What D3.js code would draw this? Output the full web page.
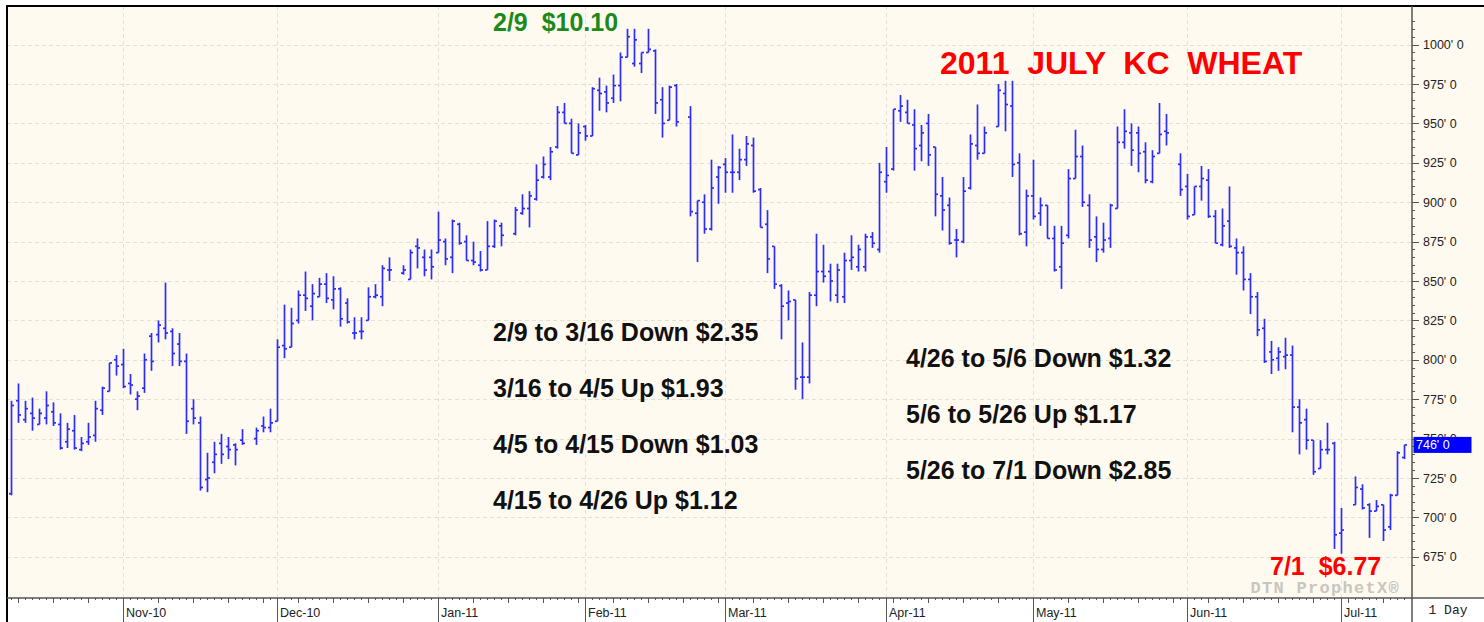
<!DOCTYPE html>
<html>
<head>
<meta charset="utf-8">
<title>2011 July KC Wheat</title>
<script src="https://d3js.org/d3.v7.min.js"></script>
<style>
  body { margin: 0; background: #fff; }
  svg { display: block; font-family: "Liberation Sans", Arial, sans-serif; }
</style>
</head>
<body>
<div id="chart"></div>
<script>
// trading calendar: every weekday gets a slot, holidays stay empty (null)
var firstDay = "2010-10-08";
var lastDay = "2011-07-14";

var priceTicks = [675, 700, 725, 750, 775, 800, 825, 850, 875, 900, 925, 950, 975, 1000];
var lastPrice = 746;

// daily bars, cents per bushel, one line per month
var opens = [
  715, 774, 762, 766, 759, 763, 767, 759, 748, 755, 743, 748, 752, 768, 780, 800,
  797, 785, 775, 782, 815, 816, 820, 818, 810, 799, 769, 760, 724, 735, 747, 745, 746, 749, null, 750, 758, 757,
  761, 809, 808, 825, 841, 834, 840, 848, 838, 845, 836, 817, 818, 825, 840, 840, 857, null, 855, 851, 872, 865, 865,
  868, 875, 865, 886, 875, 863, 860, 857, 872, 885, null, 880, 893, 896, 902, 916, 916, 935, 957, 950, 930,
  948, 942, 971, 970, 966, 974, 992, 988, 988, 995, 996, 965, 952, 974, null, 954, 893, 900, 883, 916,
  924, 919, 919, 927, 936, 908, 886, 872, 847, 836, 838, 789, 789, 841, 856, 856, 841, 840, 863, 859, 859, 878, 870,
  913, 921, 958, 957, 949, 936, 950, 935, 904, 898, 876, 875, 909, 936, 931, null, 948, 969, 961, 925, 881,
  904, 893, 898, 877, 859, 879, 915, 929, 898, 878, 870, 877, 896, 938, 944, 944, 932, 913, 931, 945, null, 924,
  910, 892, 910, 914, 891, 873, 888, 871, 868, 851, 840, 820, 805, 801, 802, 803, 770, 762, 749, 731, 743, 747,
  690, null, 708, 718, 708, 704, 708, 694, 714, 738
];
var highs = [
  774, 785, 774, 776, 769, 780, 773, 766, 760, 765, 751, 760, 774, 783, 798, 803,
  807, 791, 780, 804, 817, 825, 849, 820, 817, 804, 775, 764, 741, 748, 753, 751, 747, 756, null, 757, 764, 769,
  813, 835, 833, 844, 856, 848, 852, 855, 853, 846, 839, 827, 827, 846, 848, 860, 865, null, 860, 870, 877, 870, 870,
  894, 877, 889, 887, 879, 875, 869, 888, 889, 887, null, 897, 905, 907, 924, 929, 935, 961, 963, 953, 950,
  949, 973, 979, 974, 981, 995, 1010, 1010, 995, 1010, 997, 973, 974, 975, null, 961, 901, 905, 927, 923,
  928, 943, 934, 942, 941, 909, 895, 872, 848, 844, 838, 811, 843, 880, 873, 861, 861, 868, 879, 873, 880, 881, 925,
  935, 959, 968, 965, 959, 949, 956, 935, 916, 903, 883, 916, 943, 962, 948, null, 975, 977, 977, 931, 908,
  927, 903, 898, 885, 885, 921, 946, 936, 905, 891, 887, 899, 948, 959, 950, 948, 938, 933, 963, 956, null, 931,
  918, 910, 923, 921, 895, 896, 910, 877, 872, 855, 843, 826, 812, 808, 814, 809, 775, 769, 749, 749, 760, 748,
  706, null, 726, 721, 709, 711, 708, 715, 742, 746
];
var lows = [
  714, 760, 760, 755, 759, 759, 758, 743, 744, 743, 742, 746, 748, 765, 780, 790,
  782, 778, 768, 779, 793, 811, 813, 796, 796, 753, 759, 717, 716, 728, 734, 737, 733, 746, null, 746, 754, 754,
  761, 801, 808, 823, 831, 825, 840, 836, 832, 821, 823, 813, 813, 825, 839, 834, 850, null, 854, 851, 858, 853, 851,
  868, 860, 855, 873, 863, 860, 856, 857, 871, 872, null, 879, 892, 884, 901, 915, 914, 934, 950, 931, 930,
  939, 942, 958, 957, 963, 964, 992, 986, 982, 995, 956, 941, 952, 948, null, 891, 862, 880, 882, 899,
  906, 906, 914, 923, 906, 884, 855, 845, 813, 825, 781, 775, 785, 834, 849, 837, 836, 836, 857, 856, 856, 871, 868,
  906, 920, 951, 950, 920, 926, 923, 891, 882, 873, 865, 874, 908, 927, 931, null, 948, 945, 916, 879, 872,
  889, 885, 877, 856, 845, 877, 915, 897, 871, 862, 868, 871, 896, 934, 923, 919, 912, 912, 931, 936, null, 904,
  889, 892, 901, 890, 874, 872, 871, 854, 844, 829, 815, 798, 791, 793, 794, 754, 740, 743, 727, 731, 740, 680,
  677, null, 708, 705, 687, 704, 685, 692, 714, 737
];
var closes = [
  771, 765, 769, 763, 766, 771, 760, 744, 756, 744, 747, 751, 769, 782, 798, 796,
  783, 784, 777, 800, 799, 822, 817, 804, 799, 761, 763, 719, 725, 740, 740, 743, 743, 747, null, 755, 757, 760,
  808, 807, 823, 841, 839, 842, 848, 839, 845, 826, 824, 817, 818, 840, 841, 858, 857, null, 857, 868, 871, 857, 859,
  876, 864, 888, 874, 863, 862, 857, 872, 888, 879, null, 895, 896, 904, 914, 924, 932, 957, 950, 931, 944,
  942, 972, 969, 963, 974, 992, 1005, 1003, 995, 997, 963, 950, 973, 951, null, 894, 901, 883, 909, 922,
  919, 919, 927, 937, 907, 884, 864, 848, 834, 837, 788, 789, 841, 856, 853, 850, 857, 863, 865, 870, 878, 874, 919,
  917, 959, 961, 950, 934, 944, 930, 905, 895, 874, 876, 907, 937, 931, 944, null, 971, 962, 924, 880, 904,
  891, 898, 877, 857, 874, 915, 929, 900, 876, 870, 876, 898, 938, 945, 933, 931, 914, 929, 943, 944, null, 908,
  891, 910, 915, 891, 874, 885, 872, 868, 851, 840, 819, 799, 800, 805, 803, 770, 760, 749, 729, 743, 743, 689,
  692, null, 719, 706, 704, 707, 692, 714, 741, 746
];

// text laid over the chart
var notes = [
  { text: "2/9  $10.10", x: 493, y: 31, color: "#1b8a1b", size: 25 },
  { text: "2011  JULY  KC  WHEAT", x: 940, y: 74, color: "#ff0000", size: 32 },
  { text: "2/9 to 3/16 Down $2.35", x: 493, y: 341, color: "#111", size: 25 },
  { text: "3/16 to 4/5 Up $1.93", x: 493, y: 397, color: "#111", size: 25 },
  { text: "4/5 to 4/15 Down $1.03", x: 493, y: 453, color: "#111", size: 25 },
  { text: "4/15 to 4/26 Up $1.12", x: 493, y: 509, color: "#111", size: 25 },
  { text: "4/26 to 5/6 Down $1.32", x: 906, y: 367, color: "#111", size: 25 },
  { text: "5/6 to 5/26 Up $1.17", x: 906, y: 423, color: "#111", size: 25 },
  { text: "5/26 to 7/1 Down $2.85", x: 906, y: 479, color: "#111", size: 25 },
  { text: "7/1  $6.77", x: 1270, y: 575, color: "#ff0000", size: 25 }
];

var width = 1484, height = 622;
var plot = { left: 7, top: 6, right: 1412, bottom: 598 };

var parse = d3.timeParse("%Y-%m-%d");
var days = d3.timeDay.range(parse(firstDay), d3.timeDay.offset(parse(lastDay), 1))
  .filter(function(d) { return d.getDay() !== 0 && d.getDay() !== 6; });

var bars = days.map(function(d, i) {
  return { date: d, o: opens[i], h: highs[i], l: lows[i], c: closes[i] };
});

var x = d3.scaleBand()
  .domain(days)
  .range([7.5, 7.5 + days.length * 7]);
// centre of a day's slot, snapped to a pixel
function xc(d) { return Math.round(x(d) + x.bandwidth() / 2) + 0.5; }

var y = d3.scaleLinear()
  .domain([675, 1000])
  .range([556.8, 44.6]);

var svg = d3.select("#chart").append("svg")
  .attr("width", width)
  .attr("height", height);

// backgrounds
svg.append("rect").attr("width", width).attr("height", height).attr("fill", "#fff");
svg.append("rect")
  .attr("x", plot.left).attr("y", plot.top)
  .attr("width", width - plot.left).attr("height", plot.bottom - plot.top)
  .attr("fill", "#fffaef");

// grid
var monthStarts = days.filter(function(d, i) { return i > 0 && d.getMonth() !== days[i - 1].getMonth(); });
var grid = svg.append("g")
  .attr("stroke", "#e4e0d6")
  .attr("stroke-dasharray", "4,3");
grid.selectAll("line.h").data(priceTicks).enter().append("line")
  .attr("class", "h")
  .attr("x1", plot.left).attr("x2", plot.right)
  .attr("y1", function(d) { return Math.round(y(d)) + 0.5; })
  .attr("y2", function(d) { return Math.round(y(d)) + 0.5; });
grid.selectAll("line.v").data(monthStarts).enter().append("line")
  .attr("class", "v")
  .attr("x1", xc).attr("x2", xc)
  .attr("y1", plot.top).attr("y2", plot.bottom);

// watermark
svg.append("text")
  .attr("x", 1400).attr("y", 593)
  .attr("text-anchor", "end")
  .attr("font-family", "'Liberation Mono', 'DejaVu Sans Mono', monospace")
  .attr("font-weight", "bold")
  .attr("font-size", 17)
  .attr("letter-spacing", 1.3)
  .attr("fill", "#c8c6c0")
  .text("DTN ProphetX\u00ae");

// OHLC bars: high-low line, open tick left, close tick right
var valid = bars.filter(function(d) { return d.h != null; });
var g = svg.append("g")
  .attr("stroke", "#2c2cff")
  .attr("stroke-width", 1.7);
g.selectAll("line.hl").data(valid).enter().append("line")
  .attr("class", "hl")
  .attr("x1", function(d) { return xc(d.date); })
  .attr("x2", function(d) { return xc(d.date); })
  .attr("y1", function(d) { return y(d.h); })
  .attr("y2", function(d) { return y(d.l); });
g.selectAll("line.o").data(valid).enter().append("line")
  .attr("class", "o")
  .attr("x1", function(d) { return xc(d.date) - 2.5; })
  .attr("x2", function(d) { return xc(d.date); })
  .attr("y1", function(d) { return y(d.o); })
  .attr("y2", function(d) { return y(d.o); });
g.selectAll("line.c").data(valid).enter().append("line")
  .attr("class", "c")
  .attr("x1", function(d) { return xc(d.date); })
  .attr("x2", function(d) { return xc(d.date) + 2.5; })
  .attr("y1", function(d) { return y(d.c); })
  .attr("y2", function(d) { return y(d.c); });

// frame
svg.append("path")
  .attr("d", "M" + plot.left + "," + height + "V" + plot.top + "H" + width)
  .attr("fill", "none").attr("stroke", "#000").attr("stroke-width", 2);

// right price axis
var minor = d3.range(670, 1016, 5);
var yAxis = svg.append("g").attr("transform", "translate(" + plot.right + ",0)");
yAxis.append("line")
  .attr("y1", plot.top).attr("y2", height)
  .attr("stroke", "#555").attr("stroke-width", 1.5);
yAxis.selectAll("line.tick").data(minor).enter().append("line")
  .attr("class", "tick")
  .attr("x1", 0)
  .attr("x2", function(d) { return d % 25 === 0 ? 7 : 3; })
  .attr("y1", function(d) { return Math.round(y(d)) + 0.5; })
  .attr("y2", function(d) { return Math.round(y(d)) + 0.5; })
  .attr("stroke", "#555");
yAxis.selectAll("text.lab").data(priceTicks).enter().append("text")
  .attr("class", "lab")
  .attr("x", 11)
  .attr("y", function(d) { return y(d) + 4.5; })
  .attr("font-size", 12.5)
  .attr("fill", "#222")
  .text(function(d) { return d + "' 0"; });

// last price marker
yAxis.append("rect")
  .attr("x", 1.5).attr("y", y(lastPrice) - 8)
  .attr("width", 58).attr("height", 16)
  .attr("fill", "#0000ff");
yAxis.append("text")
  .attr("x", 4).attr("y", y(lastPrice) + 4.5)
  .attr("font-size", 12.5)
  .attr("fill", "#fff")
  .text(lastPrice + "' 0");

// bottom date axis
var xAxis = svg.append("g").attr("transform", "translate(0," + plot.bottom + ")");
xAxis.append("rect")
  .attr("x", plot.left + 1).attr("y", 1)
  .attr("width", width - plot.left).attr("height", height - plot.bottom)
  .attr("fill", "#fff");
xAxis.append("line")
  .attr("x1", plot.left).attr("x2", width)
  .attr("stroke", "#555").attr("stroke-width", 1.5);
xAxis.selectAll("line.day").data(days).enter().append("line")
  .attr("class", "day")
  .attr("x1", xc).attr("x2", xc)
  .attr("y1", 0)
  .attr("y2", function(d) { return d.getDay() === 1 ? 5 : 2; })
  .attr("stroke", "#555");
xAxis.selectAll("line.month").data(monthStarts).enter().append("line")
  .attr("class", "month")
  .attr("x1", xc).attr("x2", xc)
  .attr("y1", 0).attr("y2", height - plot.bottom)
  .attr("stroke", "#555");
xAxis.selectAll("text.month").data(monthStarts).enter().append("text")
  .attr("class", "month")
  .attr("x", function(d) { return xc(d) + 2.5; })
  .attr("y", 19)
  .attr("font-size", 12.5)
  .attr("fill", "#222")
  .text(d3.timeFormat("%b-%y"));
xAxis.append("line")
  .attr("x1", plot.right).attr("x2", plot.right)
  .attr("y1", 0).attr("y2", height - plot.bottom)
  .attr("stroke", "#555").attr("stroke-width", 1.5);
xAxis.append("text")
  .attr("x", (plot.right + width) / 2).attr("y", 16)
  .attr("text-anchor", "middle")
  .attr("font-family", "'Liberation Mono', monospace")
  .attr("font-size", 13)
  .attr("fill", "#222")
  .text("1 Day");

// annotations
svg.append("g").selectAll("text").data(notes).enter().append("text")
  .attr("x", function(d) { return d.x; })
  .attr("y", function(d) { return d.y; })
  .attr("font-size", function(d) { return d.size; })
  .attr("font-weight", "bold")
  .attr("fill", function(d) { return d.color; })
  .style("white-space", "pre")
  .text(function(d) { return d.text; });
</script>
</body>
</html>
